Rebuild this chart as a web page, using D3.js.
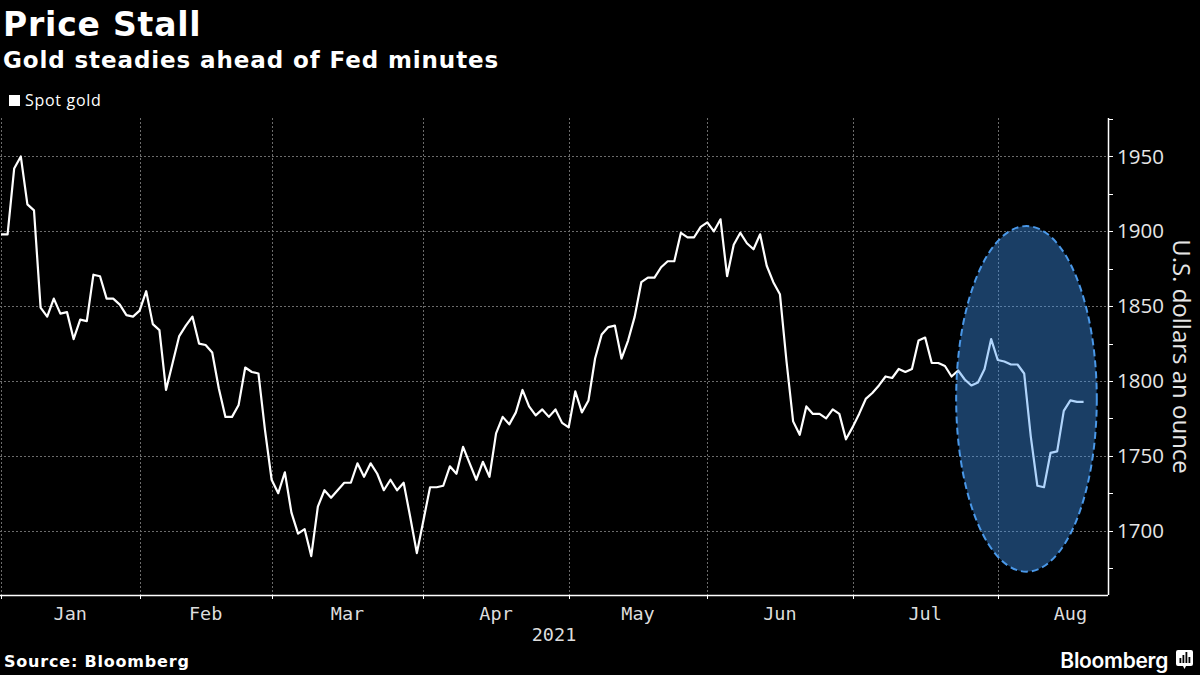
<!DOCTYPE html>
<html>
<head>
<meta charset="utf-8">
<script src="https://cdn.jsdelivr.net/npm/d3@7"></script>
<style>
  body { margin: 0; background: #000; }
  svg { display: block; }
</style>
</head>
<body>
<svg id="chart" width="1200" height="675"></svg>
<script>
// spot gold, one value per weekday starting 2020-12-31
const startDate = "2020-12-31";
const endDate = "2021-08-18";
const prices = [
  // Dec 31, Jan
  1898, 1898, 1942, 1950, 1918, 1914, 1849, 1843, 1855, 1845, 1846, 1828, 1841, 1840, 1871, 1870, 1855, 1855, 1851, 1844, 1843, 1847,
  // Feb
  1860, 1838, 1834, 1794, 1812, 1830, 1837, 1843, 1825, 1824, 1819, 1795, 1776, 1776, 1784, 1809, 1806, 1805, 1767, 1734,
  // Mar
  1725, 1739, 1712, 1698, 1701, 1683, 1716, 1727, 1722, 1727, 1732, 1732, 1745, 1736, 1745, 1738, 1727, 1734, 1727, 1732, 1709, 1685, 1707,
  // Apr
  1729, 1729, 1730, 1743, 1738, 1756, 1745, 1734, 1746, 1736, 1765, 1776, 1771, 1779, 1794, 1783, 1777, 1781, 1776, 1781, 1772, 1769,
  // May
  1793, 1779, 1787, 1815, 1831, 1836, 1837, 1815, 1827, 1843, 1866, 1869, 1869, 1876, 1880, 1880, 1899, 1896, 1896, 1903, 1906,
  // Jun
  1900, 1908, 1870, 1891, 1899, 1892, 1888, 1898, 1877, 1866, 1858, 1813, 1773, 1764, 1783, 1778, 1778, 1775, 1781, 1778, 1761, 1769,
  // Jul
  1778, 1788, 1792, 1797, 1803, 1802, 1808, 1806, 1808, 1827, 1829, 1812, 1812, 1810, 1803, 1807, 1801, 1797, 1799, 1808, 1828, 1814,
  // Aug
  1813, 1811, 1811, 1805, 1763, 1730, 1729, 1752, 1753, 1780, 1787, 1786, 1786
];
const monthLabels = ["Jan", "Feb", "Mar", "Apr", "May", "Jun", "Jul", "Aug"];
const yTicks = [1700, 1750, 1800, 1850, 1900, 1950];
const yMinorTicks = [1675, 1725, 1775, 1825, 1875, 1925, 1975];
// highlighted stretch (weekday index range, price range)
const highlightIdx = [144.7, 166];
const highlightPrice = [1672.6, 1903.5];

const isWeekday = (d) => d.getDay() !== 0 && d.getDay() !== 6;
const parse = d3.timeParse("%Y-%m-%d");
const allDays = d3.timeDay.range(parse(startDate), d3.timeDay.offset(parse("2021-08-31"), 1)).filter(isWeekday);
const data = allDays
  .filter((d) => d <= parse(endDate))
  .map((d, i) => ({ date: d, idx: i, price: prices[i] }));

// month boundaries sit on the last weekday of the previous month
const monthEnds = [];
allDays.forEach((d, i) => {
  if (i > 0 && d.getMonth() !== allDays[i - 1].getMonth()) monthEnds.push(i - 1);
});
monthEnds.push(allDays.length - 1);

const svg = d3.select("#chart");
const plot = { left: 0, right: 1108, top: 118, bottom: 595 };

const x = d3.scaleLinear().domain([-0.15, 167.7]).range([plot.left, plot.right]);
const y = d3.scaleLinear().domain([1657, 1975.7]).range([plot.bottom, plot.top]);

// titles
svg.append("text").attr("x", 3).attr("y", 36)
  .attr("fill", "#fff").attr("font-family", "DejaVu Sans").attr("font-weight", "bold")
  .attr("font-size", 33).attr("letter-spacing", 0.8).text("Price Stall");
svg.append("text").attr("x", 3).attr("y", 68)
  .attr("fill", "#fff").attr("font-family", "DejaVu Sans").attr("font-weight", "bold")
  .attr("font-size", 23).attr("letter-spacing", 0.9).text("Gold steadies ahead of Fed minutes");

// legend
svg.append("rect").attr("x", 9).attr("y", 95).attr("width", 11).attr("height", 11).attr("fill", "#fff");
svg.append("text").attr("x", 25).attr("y", 106)
  .attr("fill", "#fff").attr("font-family", "Open Sans").attr("font-size", 16)
  .attr("letter-spacing", 0.7).text("Spot gold");

// grid
const grid = svg.append("g").attr("stroke", "#6b6b6b").attr("stroke-width", 1).attr("stroke-dasharray", "2,2");
grid.selectAll(".hgrid").data(yTicks).enter().append("line")
  .attr("x1", plot.left).attr("x2", plot.right)
  .attr("y1", (d) => Math.round(y(d)) + 0.5).attr("y2", (d) => Math.round(y(d)) + 0.5);
grid.selectAll(".vgrid").data(monthEnds.slice(0, -1)).enter().append("line")
  .attr("x1", (d) => Math.round(x(d)) + 0.5).attr("x2", (d) => Math.round(x(d)) + 0.5)
  .attr("y1", plot.top).attr("y2", plot.bottom);

// x axis
const xAxis = svg.append("g");
xAxis.append("line").attr("x1", plot.left).attr("x2", plot.right)
  .attr("y1", plot.bottom + 0.5).attr("y2", plot.bottom + 0.5).attr("stroke", "#fff").attr("stroke-width", 1.5);
xAxis.selectAll(".xtick").data(monthEnds.slice(0, -1)).enter().append("line")
  .attr("x1", (d) => Math.round(x(d)) + 0.5).attr("x2", (d) => Math.round(x(d)) + 0.5)
  .attr("y1", plot.bottom).attr("y2", plot.bottom + 4).attr("stroke", "#fff");
xAxis.selectAll(".xlabel").data(monthLabels).enter().append("text")
  .attr("x", (d, i) => x((monthEnds[i] + monthEnds[i + 1]) / 2))
  .attr("y", 620).attr("text-anchor", "middle")
  .attr("fill", "#ddd").attr("font-family", "DejaVu Sans Mono").attr("font-size", 18.5)
  .text((d) => d);
xAxis.append("text").attr("x", (plot.left + plot.right) / 2).attr("y", 641).attr("text-anchor", "middle")
  .attr("fill", "#ddd").attr("font-family", "DejaVu Sans Mono").attr("font-size", 18.5).text("2021");

// y axis on the right
const yAxis = svg.append("g");
yAxis.append("line").attr("x1", plot.right + 0.5).attr("x2", plot.right + 0.5)
  .attr("y1", plot.top).attr("y2", plot.bottom).attr("stroke", "#fff").attr("stroke-width", 1.5);
yAxis.selectAll(".ytick").data(yTicks.concat(yMinorTicks)).enter().append("line")
  .attr("x1", plot.right).attr("x2", plot.right + 5)
  .attr("y1", (d) => Math.round(y(d)) + 0.5).attr("y2", (d) => Math.round(y(d)) + 0.5)
  .attr("stroke", "#fff");
yAxis.selectAll(".ylabel").data(yTicks).enter().append("text")
  .attr("x", 1117).attr("y", (d) => y(d)).attr("dy", "0.35em")
  .attr("fill", "#e6e6e6").attr("font-family", "Open Sans").attr("font-size", 20.5)
  .text((d) => d);
svg.append("text")
  .attr("transform", `translate(1173, ${(plot.top + plot.bottom) / 2}) rotate(90)`)
  .attr("text-anchor", "middle")
  .attr("fill", "#e6e6e6").attr("font-family", "Open Sans").attr("font-size", 24)
  .text("U.S. dollars an ounce");

// price line
const line = d3.line().x((d) => x(d.idx)).y((d) => y(d.price));
svg.append("path").datum(data)
  .attr("fill", "none").attr("stroke", "#fff").attr("stroke-width", 2.2)
  .attr("stroke-linejoin", "round").attr("d", line);

// highlight ellipse over the August drop
svg.append("ellipse")
  .attr("cx", (x(highlightIdx[0]) + x(highlightIdx[1])) / 2)
  .attr("cy", (y(highlightPrice[0]) + y(highlightPrice[1])) / 2)
  .attr("rx", (x(highlightIdx[1]) - x(highlightIdx[0])) / 2)
  .attr("ry", (y(highlightPrice[0]) - y(highlightPrice[1])) / 2)
  .attr("fill", "rgb(63,150,245)").attr("fill-opacity", 0.41)
  .attr("stroke", "#4a98e8").attr("stroke-width", 2).attr("stroke-dasharray", "7,4");

// footer
svg.append("text").attr("x", 4).attr("y", 667)
  .attr("fill", "#fff").attr("font-family", "DejaVu Sans").attr("font-weight", "bold")
  .attr("font-size", 16).attr("letter-spacing", 0.8).text("Source: Bloomberg");
svg.append("text").attr("x", 1168).attr("y", 668).attr("text-anchor", "end")
  .attr("fill", "#fff").attr("font-family", "Inter").attr("font-weight", "600")
  .attr("font-size", 21).attr("letter-spacing", -0.3).text("Bloomberg");
const logo = svg.append("g").attr("transform", "translate(1176, 650)");
logo.append("path").attr("d", "M2,0 H15 Q17,0 17,2 V14 Q17,16 15,16 H10 L8.5,19 L7,16 H2 Q0,16 0,14 V2 Q0,0 2,0 Z").attr("fill", "#fff");
logo.selectAll(".bar").data([5, 8, 11, 6]).enter().append("rect")
  .attr("x", (d, i) => 3.5 + i * 3).attr("y", (d) => 13 - d).attr("width", 1.8).attr("height", (d) => d)
  .attr("fill", "#000");
</script>
</body>
</html>
